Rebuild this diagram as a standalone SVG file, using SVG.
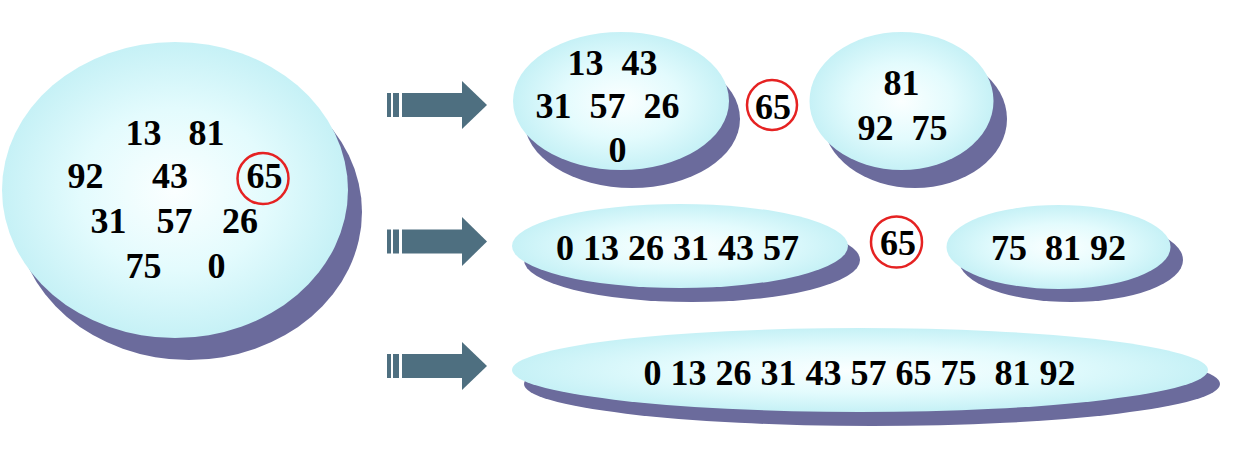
<svg xmlns="http://www.w3.org/2000/svg" width="1248" height="464" viewBox="0 0 1248 464">
  <defs>
    <radialGradient id="fillGrad" cx="50%" cy="50%" r="50%">
      <stop offset="0" stop-color="#fbffff"/>
      <stop offset="0.55" stop-color="#e3fbfd"/>
      <stop offset="1" stop-color="#c6f1f6"/>
    </radialGradient>
    <style>
      .shadow { fill: #6b6b9c; }
      .blob { fill: url(#fillGrad); }
      .num { font-family: "Liberation Serif", "Times New Roman", serif; font-weight: bold; font-size: 36px; fill: #000; text-anchor: middle; white-space: pre; }
      .ring { fill: none; stroke: #e52222; stroke-width: 2.5; }
      .arrow { fill: #4e6f80; }
    </style>
  </defs>
  <rect width="1248" height="464" fill="#ffffff"/>

  <g id="start-set">
    <ellipse class="shadow" cx="189" cy="212" rx="173" ry="148"/>
    <ellipse class="blob" cx="175" cy="190" rx="173" ry="148"/>
    <text class="num" x="143.5" y="145">13</text>
    <text class="num" x="206.5" y="145">81</text>
    <text class="num" x="85.5" y="188">92</text>
    <text class="num" x="170" y="188">43</text>
    <text class="num" x="264.5" y="188">65</text>
    <text class="num" x="108.5" y="233">31</text>
    <text class="num" x="174.5" y="233">57</text>
    <text class="num" x="240" y="233">26</text>
    <text class="num" x="143.5" y="278">75</text>
    <text class="num" x="216.5" y="278">0</text>
    <circle class="ring" cx="263" cy="178.5" r="25.5"/>
  </g>

  <g id="connectors">
    <g id="arrow1">
      <rect class="arrow" x="387" y="93" width="4" height="24"/>
      <rect class="arrow" x="393" y="93" width="6" height="24"/>
      <rect class="arrow" x="402" y="93" width="61" height="24"/>
      <polygon class="arrow" points="462,81 487,105 462,129"/>
    </g>
    <g id="arrow2">
      <rect class="arrow" x="387" y="229.5" width="4" height="24"/>
      <rect class="arrow" x="393" y="229.5" width="6" height="24"/>
      <rect class="arrow" x="402" y="229.5" width="61" height="24"/>
      <polygon class="arrow" points="462,217 487,241.5 462,266"/>
    </g>
    <g id="arrow3">
      <rect class="arrow" x="387" y="354" width="4" height="24"/>
      <rect class="arrow" x="393" y="354" width="6" height="24"/>
      <rect class="arrow" x="402" y="354" width="61" height="24"/>
      <polygon class="arrow" points="462,342 487,366 462,390"/>
    </g>
  </g>

  <g id="step1-left">
    <ellipse class="shadow" cx="632" cy="119" rx="108" ry="69"/>
    <ellipse class="blob" cx="621" cy="101" rx="108" ry="69"/>
    <text class="num" x="612.5" y="75">13  43</text>
    <text class="num" x="607.5" y="118">31  57  26</text>
    <text class="num" x="617.5" y="162">0</text>
  </g>

  <g id="step1-pivot">
    <circle class="ring" cx="772" cy="105" r="25"/>
    <text class="num" x="773" y="119">65</text>
  </g>

  <g id="step1-right">
    <ellipse class="shadow" cx="915" cy="119" rx="92" ry="69"/>
    <ellipse class="blob" cx="901.5" cy="101" rx="92" ry="69"/>
    <text class="num" x="901.5" y="95">81</text>
    <text class="num" x="902.5" y="140">92  75</text>
  </g>

  <g id="step2-left">
    <ellipse class="shadow" cx="692" cy="260" rx="168" ry="42"/>
    <ellipse class="blob" cx="680" cy="246" rx="168" ry="42"/>
    <text class="num" x="677.5" y="260">0 13 26 31 43 57</text>
  </g>

  <g id="step2-pivot">
    <circle class="ring" cx="896.5" cy="242" r="25.5"/>
    <text class="num" x="898" y="255">65</text>
  </g>

  <g id="step2-right">
    <ellipse class="shadow" cx="1071" cy="260" rx="112" ry="42"/>
    <ellipse class="blob" cx="1058.5" cy="247" rx="112" ry="42"/>
    <text class="num" x="1058.5" y="260">75  81 92</text>
  </g>

  <g id="result">
    <ellipse class="shadow" cx="872" cy="384" rx="348" ry="42"/>
    <ellipse class="blob" cx="860" cy="370" rx="348" ry="42"/>
    <text class="num" x="859.5" y="385">0 13 26 31 43 57 65 75  81 92</text>
  </g>
</svg>
